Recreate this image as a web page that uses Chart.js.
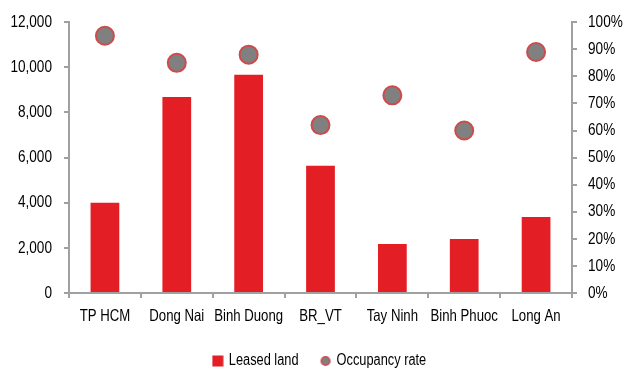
<!DOCTYPE html>
<html>
<head>
<meta charset="utf-8">
<script src="https://cdn.jsdelivr.net/npm/chart.js@4.4.1/dist/chart.umd.min.js"></script>
<style>
  html, body { margin: 0; padding: 0; background: #ffffff; }
  #wrap { width: 623px; height: 370px; }
</style>
</head>
<body>
<div id="wrap"><canvas id="c" width="623" height="370"></canvas></div>
<script>
// Industrial land by province: leased area and occupancy
const provinces = ['TP HCM', 'Dong Nai', 'Binh Duong', 'BR_VT', 'Tay Ninh', 'Binh Phuoc', 'Long An'];
const leasedLand = [4000, 8680, 9670, 5640, 2170, 2390, 3370];
const occupancyRate = [95, 85, 88, 62, 73, 60, 89];
const leftTicks = [0, 2000, 4000, 6000, 8000, 10000, 12000];
const rightTicks = [0, 10, 20, 30, 40, 50, 60, 70, 80, 90, 100];

const RED = '#e31e24';
const GREY = '#808080';
const RING = '#cc4c4c';
const AXIS = '#a0a0a0';
const FONT = '"Liberation Sans", Arial, sans-serif';
const NARROW = 0.8; // horizontal squeeze giving a condensed face

const canvas = document.getElementById('c');
const ctx = canvas.getContext('2d');

// Condensed text: squeeze glyphs horizontally around their anchor point
const baseFill = ctx.fillText.bind(ctx);
const baseMeasure = ctx.measureText.bind(ctx);
ctx.fillText = function (text, x, y, maxWidth) {
  this.save();
  this.translate(x, y);
  this.scale(NARROW, 1);
  baseFill(text, 0, 0);
  this.restore();
};
ctx.measureText = function (text) {
  const m = baseMeasure(text);
  return {
    width: m.width * NARROW,
    actualBoundingBoxLeft: m.actualBoundingBoxLeft * NARROW,
    actualBoundingBoxRight: m.actualBoundingBoxRight * NARROW,
    actualBoundingBoxAscent: m.actualBoundingBoxAscent,
    actualBoundingBoxDescent: m.actualBoundingBoxDescent,
    fontBoundingBoxAscent: m.fontBoundingBoxAscent,
    fontBoundingBoxDescent: m.fontBoundingBoxDescent
  };
};

// small legend markers
function marker(kind) {
  const cv = document.createElement('canvas');
  cv.width = 12; cv.height = 12;
  const g = cv.getContext('2d');
  if (kind === 'rect') {
    g.fillStyle = RED;
    g.fillRect(0.5, 0.5, 11, 11);
  } else {
    g.beginPath();
    g.arc(6, 6, 4.3, 0, Math.PI * 2);
    g.fillStyle = GREY;
    g.fill();
    g.lineWidth = 1.6;
    g.strokeStyle = RING;
    g.stroke();
  }
  return cv;
}
const legendMarks = { 'Leased land': marker('rect'), 'Occupancy rate': marker('circle') };

new Chart(ctx, {
  data: {
    labels: provinces,
    datasets: [
      {
        type: 'scatter',
        label: 'Occupancy rate',
        data: occupancyRate,
        yAxisID: 'y1',
        showLine: false,
        pointRadius: 9,
        pointHoverRadius: 9,
        pointBackgroundColor: GREY,
        pointBorderColor: RING,
        pointBorderWidth: 2,
        order: 0
      },
      {
        type: 'bar',
        label: 'Leased land',
        data: leasedLand,
        yAxisID: 'y',
        backgroundColor: RED,
        borderWidth: 0,
        barPercentage: 0.8,
        categoryPercentage: 0.5,
        order: 1
      }
    ]
  },
  options: {
    responsive: false,
    animation: false,
    events: [],
    layout: { padding: { top: 11, left: 0, right: 0, bottom: -9 } },
    plugins: {
      tooltip: { enabled: false },
      legend: {
        position: 'bottom',
        fullSize: false,
        reverse: true,
        labels: {
          usePointStyle: true,
          boxWidth: 6,
          boxHeight: 11,
          padding: 24,
          color: '#000000',
          font: { family: FONT, size: 16 },
          generateLabels(chart) {
            const items = Chart.defaults.plugins.legend.labels.generateLabels(chart);
            items.forEach(it => { it.pointStyle = legendMarks[it.text]; });
            return items;
          }
        }
      }
    },
    scales: {
      x: {
        type: 'category',
        offset: true,
        afterFit(scale) { scale.height = 36; },
        grid: {
          offset: true,
          drawOnChartArea: false,
          drawTicks: true,
          tickLength: 5,
          color: AXIS,
          lineWidth: 2
        },
        border: { color: AXIS, width: 2 },
        ticks: {
          color: '#000000',
          padding: 9,
          maxRotation: 0,
          autoSkip: false,
          font: { family: FONT, size: 16.5 }
        }
      },
      y: {
        type: 'linear',
        position: 'left',
        min: 0,
        max: 12000,
        afterBuildTicks(scale) { scale.ticks = leftTicks.map(v => ({ value: v })); },
        afterFit(scale) { scale.width = 69; },
        grid: {
          drawOnChartArea: false,
          tickLength: 5,
          color: AXIS,
          lineWidth: 2
        },
        border: { color: AXIS, width: 2 },
        ticks: {
          color: '#000000',
          padding: 12,
          font: { family: FONT, size: 17 },
          callback: v => v.toLocaleString('en-US')
        }
      },
      y1: {
        type: 'linear',
        position: 'right',
        min: 0,
        max: 100,
        afterBuildTicks(scale) { scale.ticks = rightTicks.map(v => ({ value: v })); },
        afterFit(scale) { scale.width = 51; },
        grid: {
          drawOnChartArea: false,
          tickLength: 5,
          color: AXIS,
          lineWidth: 2
        },
        border: { color: AXIS, width: 2 },
        ticks: {
          color: '#000000',
          padding: 11,
          font: { family: FONT, size: 17 },
          callback: v => v + '%'
        }
      }
    }
  }
});
</script>
</body>
</html>
